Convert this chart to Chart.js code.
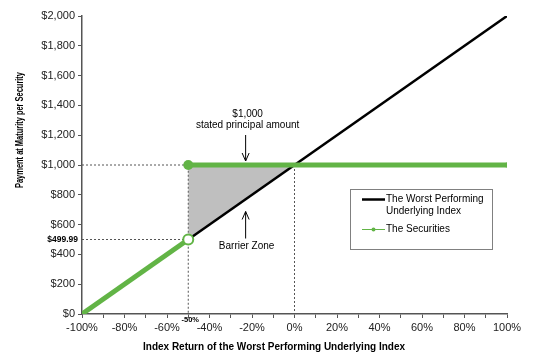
<!DOCTYPE html>
<html>
<head>
<meta charset="utf-8">
<script src="https://cdn.jsdelivr.net/npm/chart.js@4/dist/chart.umd.min.js"></script>
<style>
  html, body { margin: 0; padding: 0; background: #fff; }
  #wrap { width: 541px; height: 361px; position: relative; }
</style>
</head>
<body>
<div id="wrap"><canvas id="chart"></canvas></div>
<script>
// index return (%) and payment ($) values
const indexReturn = [-100, 100];
const indexPayment = [0, 2000];

const lowReturn = [-100, -50];
const lowPayment = [0, 499.99];

const highReturn = [-50, 100];
const highPayment = [1000, 1000];

const barrierReturn = [-50, 0];
const barrierPayment = [500, 1000];

const principal = 1000;
const barrier = -50;
const barrierValue = 499.99;

const xTicks = [-100, -80, -60, -40, -20, 0, 20, 40, 60, 80, 100];

const green = '#62b446';
const dashColor = '#555';

function pts(xs, ys) {
    return xs.map((x, i) => ({x: x, y: ys[i]}))
}

function guide(xs, ys) {
    return {
        data: pts(xs, ys),
        showLine: true,
        borderColor: dashColor,
        borderWidth: 1,
        borderDash: [2, 2],
        pointRadius: 0,
        order: 5
    }
}

// annotations, legend box, axis titles
const extras = {
    id: 'extras',
    afterDatasetsDraw(chart) {
        const ctx = chart.ctx;
        const xs = chart.scales.x, ys = chart.scales.y;
        ctx.save();
        ctx.fillStyle = '#000';
        ctx.strokeStyle = '#000';
        ctx.lineWidth = 1;

        // $1,000 stated principal amount
        const ax = xs.getPixelForValue(-23);
        const top = ys.getPixelForValue(principal);
        ctx.font = '10px "Liberation Sans", Arial, sans-serif';
        ctx.textAlign = 'center';
        ctx.textBaseline = 'middle';
        ctx.fillText('$1,000', ax + 2, top - 51);
        ctx.fillText('stated principal amount', ax + 2, top - 40);
        arrow(ctx, ax, top - 30, ax, top - 4);

        // Barrier Zone
        const bz = ys.getPixelForValue(barrierValue) + 7;
        ctx.fillText('Barrier Zone', ax + 1, bz);
        arrow(ctx, ax, bz - 8, ax, bz - 35);

        // small labels
        ctx.font = 'bold 8.5px "Liberation Sans", Arial, sans-serif';
        ctx.textAlign = 'right';
        ctx.fillText('$499.99', xs.left - 4, ys.getPixelForValue(barrierValue));
        ctx.font = 'bold 7.5px "Liberation Sans", Arial, sans-serif';
        ctx.textAlign = 'center';
        ctx.fillText('-50%', xs.getPixelForValue(barrier) + 2, ys.bottom + 6);

        // legend
        const lx = 350.5, ly = 189.5, lw = 142, lh = 60;
        ctx.strokeStyle = '#808080';
        ctx.strokeRect(lx, ly, lw, lh);
        ctx.strokeStyle = '#000';
        ctx.lineWidth = 2.5;
        ctx.beginPath();
        ctx.moveTo(362, 199.5); ctx.lineTo(385, 199.5);
        ctx.stroke();
        ctx.strokeStyle = green;
        ctx.lineWidth = 1;
        ctx.beginPath();
        ctx.moveTo(362, 229.5); ctx.lineTo(385, 229.5);
        ctx.stroke();
        ctx.fillStyle = green;
        ctx.beginPath();
        ctx.arc(373.5, 229.5, 2, 0, Math.PI * 2);
        ctx.fill();
        ctx.fillStyle = '#000';
        ctx.font = '10px "Liberation Sans", Arial, sans-serif';
        ctx.textAlign = 'left';
        ctx.fillText('The Worst Performing', 386, 199.5);
        ctx.fillText('Underlying Index', 386, 211);
        ctx.fillText('The Securities', 386, 229.5);

        // axis titles
        ctx.font = 'bold 10px "Liberation Sans", Arial, sans-serif';
        fitText(ctx, 'Index Return of the Worst Performing Underlying Index', 274, 347, 262);
        ctx.save();
        ctx.translate(20, 130);
        ctx.rotate(-Math.PI / 2);
        fitText(ctx, 'Payment at Maturity per Security', 0, 0, 116);
        ctx.restore();

        ctx.restore();
    }
};

function fitText(ctx, text, x, y, width) {
    const w = ctx.measureText(text).width;
    ctx.save();
    ctx.translate(x, y);
    ctx.scale(width / w, 1);
    ctx.textAlign = 'center';
    ctx.textBaseline = 'middle';
    ctx.fillText(text, 0, 0);
    ctx.restore();
}

function arrow(ctx, x1, y1, x2, y2) {
    const d = y2 > y1 ? 1 : -1;
    ctx.beginPath();
    ctx.moveTo(x1, y1); ctx.lineTo(x2, y2);
    ctx.moveTo(x2 - 3.5, y2 - d * 8); ctx.lineTo(x2, y2); ctx.lineTo(x2 + 3.5, y2 - d * 8);
    ctx.stroke();
}

const data = {
    datasets: [
        {
            data: pts(barrierReturn, barrierPayment),
            showLine: true,
            borderWidth: 0,
            borderColor: 'rgba(0,0,0,0)',
            backgroundColor: '#bfbfbf',
            fill: {value: principal},
            pointRadius: 0,
            order: 6
        },
        guide([-100, barrier, barrier], [principal, principal, 0]),
        guide([-100, barrier], [barrierValue, barrierValue]),
        guide([0, 0], [principal, 0]),
        {
            data: pts(indexReturn, indexPayment),
            showLine: true,
            borderColor: '#000',
            borderWidth: 2.5,
            pointRadius: 0,
            order: 3
        },
        {
            data: pts(lowReturn, lowPayment),
            showLine: true,
            borderColor: green,
            borderWidth: 5,
            pointRadius: [0, 5],
            pointBackgroundColor: '#fff',
            pointBorderColor: green,
            pointBorderWidth: 2,
            order: 1
        },
        {
            data: pts(highReturn, highPayment),
            showLine: true,
            borderColor: green,
            borderWidth: 5,
            pointRadius: [5, 2.5],
            pointBackgroundColor: green,
            pointBorderColor: green,
            pointBorderWidth: 0,
            order: 2
        }
    ]
};

const config = {
    type: 'scatter',
    data: data,
    options: {
        responsive: false,
        animation: false,
        events: [],
        layout: {padding: {left: 0, right: 34, top: 16, bottom: 0}},
        plugins: {legend: {display: false}, tooltip: {enabled: false}},
        scales: {
            x: {
                type: 'linear',
                min: -100, max: 100,
                afterBuildTicks(scale) {
                    const t = [];
                    for (let v = -100; v <= 100; v += 10) t.push({value: v});
                    scale.ticks = t;
                },
                afterFit(scale) { scale.height = 47; },
                ticks: {
                    autoSkip: false,
                    maxRotation: 0,
                    padding: 3,
                    color: '#222',
                    font: {family: '"Liberation Sans", Arial, sans-serif', size: 11},
                    callback: v => xTicks.includes(v) ? v + '%' : ''
                },
                grid: {drawOnChartArea: false, tickLength: 4, color: '#555', lineWidth: 1},
                border: {color: '#555', width: 1.5}
            },
            y: {
                min: 0, max: 2000,
                ticks: {
                    stepSize: 200,
                    padding: 3,
                    color: '#222',
                    font: {family: '"Liberation Sans", Arial, sans-serif', size: 11},
                    callback: v => '$' + v.toLocaleString('en-US')
                },
                afterFit(scale) { scale.width = 82; },
                grid: {drawOnChartArea: false, tickLength: 4, color: '#555', lineWidth: 1},
                border: {color: '#555', width: 1.5}
            }
        }
    },
    plugins: [extras]
};

const canvas = document.getElementById('chart');
canvas.width = 541;
canvas.height = 361;
new Chart(canvas.getContext('2d'), config);
</script>
</body>
</html>
